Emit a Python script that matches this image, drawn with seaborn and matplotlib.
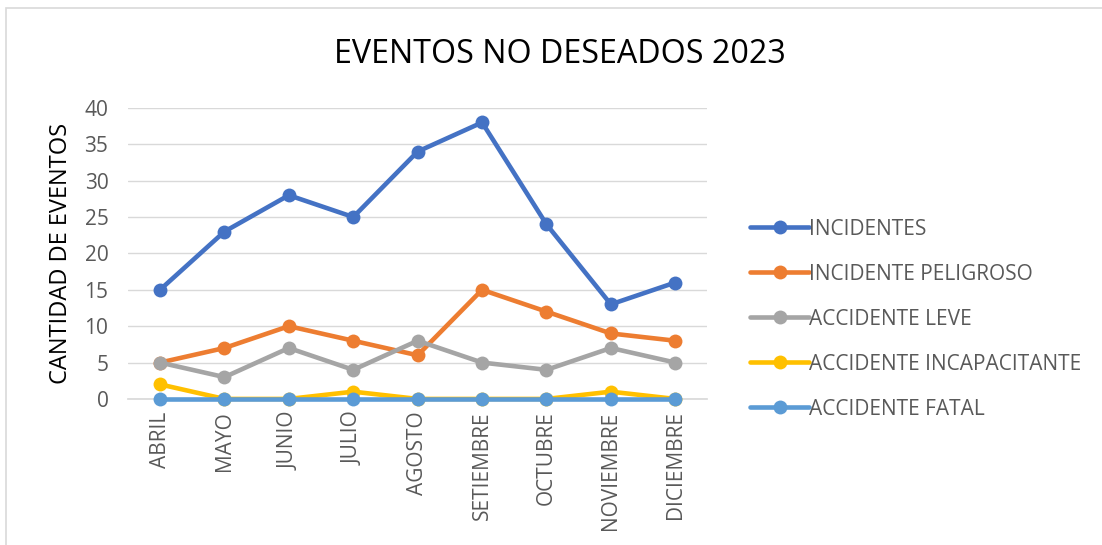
import matplotlib
matplotlib.use("Agg")
import matplotlib.pyplot as plt
import seaborn as sns
import pandas as pd
from matplotlib.patches import Rectangle

# data
meses = ["ABRIL", "MAYO", "JUNIO", "JULIO", "AGOSTO", "SETIEMBRE",
         "OCTUBRE", "NOVIEMBRE", "DICIEMBRE"]
incidentes     = [15, 23, 28, 25, 34, 38, 24, 13, 16]
peligroso      = [5, 7, 10, 8, 6, 15, 12, 9, 8]
leve           = [5, 3, 7, 4, 8, 5, 4, 7, 5]
incapacitante  = [2, 0, 0, 1, 0, 0, 0, 1, 0]
fatal          = [0, 0, 0, 0, 0, 0, 0, 0, 0]

series = {
    "INCIDENTES": incidentes,
    "INCIDENTE PELIGROSO": peligroso,
    "ACCIDENTE LEVE": leve,
    "ACCIDENTE INCAPACITANTE": incapacitante,
    "ACCIDENTE FATAL": fatal,
}
colores = ["#4472C4", "#ED7D31", "#A5A5A5", "#FFC000", "#5B9BD5"]

rows = []
for name, vals in series.items():
    for i, v in enumerate(vals):
        rows.append({"mes": i, "serie": name, "valor": v})
df = pd.DataFrame(rows)

sns.set_theme(style="white")
plt.rcParams["font.family"] = ["Open Sans", "DejaVu Sans"]

fig = plt.figure(figsize=(11.02, 5.45), dpi=100)
ax = fig.add_axes([0.116, 0.268, 0.526, 0.534])

sns.lineplot(data=df, x="mes", y="valor", hue="serie",
             hue_order=list(series.keys()), palette=colores,
             marker="o", markersize=10, markeredgewidth=0,
             linewidth=3.3, ax=ax, legend=True)

# keep the zero line and markers visible on the axis
for ln in ax.lines:
    ln.set_clip_on(False)
    ln.set_zorder(3)

ax.set_xlim(-0.5, len(meses) - 0.5)
ax.set_ylim(0, 40)
ax.set_yticks(range(0, 41, 5))
ax.set_xticks(range(len(meses)))
ax.set_xticklabels(meses, rotation=90, fontsize=15, color="#595959")
ax.tick_params(axis="y", labelsize=15, colors="#595959", length=0, pad=14)
ax.tick_params(axis="x", length=0, pad=9)
ax.yaxis.grid(True, color="#D9D9D9", linewidth=1)
ax.set_axisbelow(True)
for s in ["top", "right", "left"]:
    ax.spines[s].set_visible(False)
ax.spines["bottom"].set_color("#D9D9D9")
ax.spines["bottom"].set_zorder(0)
ax.set_xlabel("")
ax.set_ylabel("CANTIDAD DE EVENTOS", fontsize=17, color="black", labelpad=8)

handles, labels = ax.get_legend_handles_labels()
ax.get_legend().remove()
leg = fig.legend(handles, labels, loc="upper left",
                 bbox_to_anchor=(0.664, 0.633), frameon=False,
                 fontsize=15, labelspacing=1.15, handlelength=2.8,
                 handletextpad=0.0)
for t in leg.get_texts():
    t.set_color("#595959")

fig.text(0.508, 0.9, "EVENTOS NO DESEADOS 2023", ha="center", va="center",
         fontsize=23.2, color="black")

fig.patches.append(Rectangle((0.005, -0.05), 1.2, 1.035,
                             transform=fig.transFigure, fill=False,
                             edgecolor="#D9D9D9", linewidth=1.2))

fig.savefig("out.png", dpi=100)
